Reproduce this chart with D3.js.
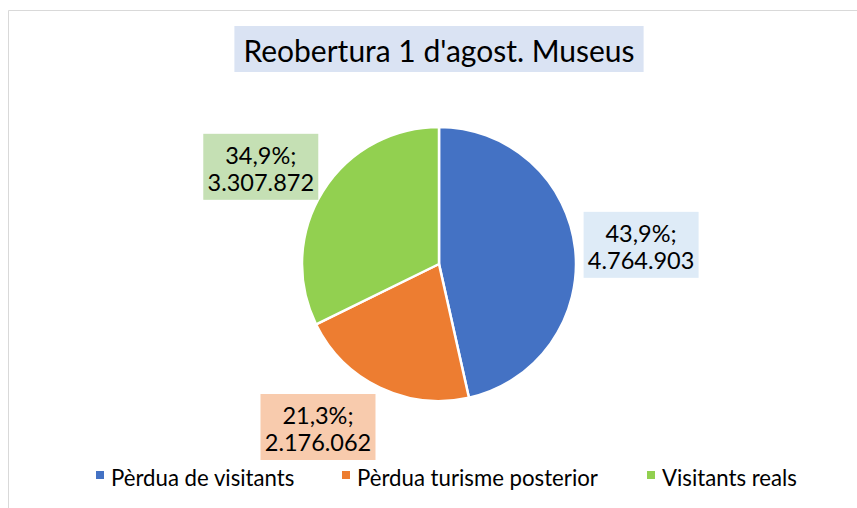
<!DOCTYPE html>
<html>
<head>
<meta charset="utf-8">
<script src="https://cdn.jsdelivr.net/npm/d3@7"></script>
<style>
  html, body { margin: 0; padding: 0; background: #fff; }
  svg { display: block; font-family: Lato, "Open Sans", sans-serif; }
</style>
</head>
<body>
<svg id="chart" width="857" height="508"></svg>
<script>
const categories = ["Pèrdua de visitants", "Pèrdua turisme posterior", "Visitants reals"];
const values = [4764903, 2176062, 3307872];
const percentLabels = ["43,9%", "21,3%", "34,9%"];
const valueLabels = ["4.764.903", "2.176.062", "3.307.872"];
const colors = ["#4472c4", "#ed7d31", "#92d050"];
const labelFills = ["#deebf7", "#f8cbad", "#c5e0b4"];
const title = "Reobertura 1 d'agost. Museus";

const W = 857, H = 508;
const svg = d3.select("#chart");

// chart area border
svg.append("path")
  .attr("d", `M8.5,${H} V10.5 H${W}`)
  .attr("fill", "none").attr("stroke", "#d9d9d9").attr("stroke-width", 1);

// title
const tg = svg.append("g");
const tt = tg.append("text")
  .attr("x", 439).attr("y", 62)
  .attr("text-anchor", "middle")
  .attr("font-size", 30)
  .attr("fill", "#000")
  .text(title);
const tb = tt.node().getBBox();
tg.insert("rect", "text")
  .attr("x", tb.x - 9).attr("y", 26)
  .attr("width", tb.width + 18).attr("height", 46)
  .attr("fill", "#dae3f3");

// pie
const cx = 439, cy = 264, r = 137;
const pie = d3.pie().sort(null).value(d => d)(values);
const arc = d3.arc().innerRadius(0).outerRadius(r);
const g = svg.append("g").attr("transform", `translate(${cx},${cy})`);
g.selectAll("path.slice").data(pie).join("path")
  .attr("class", "slice")
  .attr("d", arc)
  .attr("fill", (d, i) => colors[i])
  .attr("stroke", "#fff").attr("stroke-width", 2.5).attr("stroke-linejoin", "round");

// data labels (best-fit style placement outside the slices)
const angleNudge = [0.9, 11, -3.3]; // degrees
const labelDist = 203;
const boxW = 115, boxH = 66;
pie.forEach((d, i) => {
  const a = (d.startAngle + d.endAngle) / 2 + angleNudge[i] * Math.PI / 180;
  const lx = cx + labelDist * Math.sin(a);
  const ly = cy - labelDist * Math.cos(a);
  const lg = svg.append("g").attr("transform", `translate(${lx},${ly})`);
  lg.append("rect")
    .attr("x", -boxW / 2).attr("y", -boxH / 2)
    .attr("width", boxW).attr("height", boxH)
    .attr("fill", labelFills[i]);
  lg.append("text").attr("text-anchor", "middle").attr("font-size", 23.5)
    .attr("fill", "#000").attr("y", -3).text(percentLabels[i] + ";");
  lg.append("text").attr("text-anchor", "middle").attr("font-size", 23.5)
    .attr("fill", "#000").attr("y", 24).text(valueLabels[i]);
});

// legend
const legendX = [96, 342, 647];
const lgd = svg.append("g");
categories.forEach((c, i) => {
  lgd.append("rect").attr("x", legendX[i]).attr("y", 471)
    .attr("width", 8).attr("height", 8).attr("fill", colors[i]);
  lgd.append("text").attr("x", legendX[i] + 15).attr("y", 486)
    .attr("font-size", 22.2).attr("fill", "#000").text(c);
});
</script>
</body>
</html>
